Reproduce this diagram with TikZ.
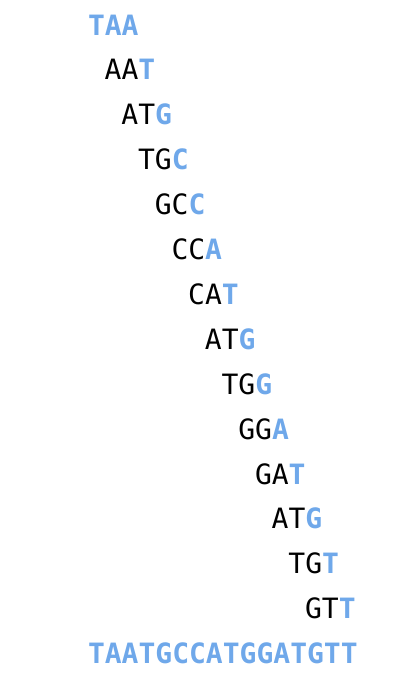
\documentclass[tikz,border=0pt]{standalone}
\usepackage{xcolor}
\usepackage{fontspec}
\setmonofont{DejaVu Sans Mono}
\usepackage{tikz}
\usetikzlibrary{positioning}
\definecolor{kmerBlue}{HTML}{6FA8EA}
\newcommand{\hl}[1]{\textcolor{kmerBlue}{\bfseries #1}}
\tikzset{
  kmer/.style={anchor=base west, inner sep=0pt, outer sep=0pt, font=\ttfamily\fontsize{28}{30}\selectfont},
  genome/.style={kmer}
}

\begin{document}
\begin{tikzpicture}[x=1pt, y=1pt]
  \useasboundingbox (0,0) rectangle (420,-696);
  \node[kmer] (k1)  at (88.0,-35.0)   {\hl{TAA}};
  \node[kmer] (k2)  at (104.7,-79.9)  {AA\hl{T}};
  \node[kmer] (k3)  at (121.4,-124.8) {AT\hl{G}};
  \node[kmer] (k4)  at (138.1,-169.7) {TG\hl{C}};
  \node[kmer] (k5)  at (154.8,-214.6) {GC\hl{C}};
  \node[kmer] (k6)  at (171.5,-259.5) {CC\hl{A}};
  \node[kmer] (k7)  at (188.2,-304.4) {CA\hl{T}};
  \node[kmer] (k8)  at (204.9,-349.3) {AT\hl{G}};
  \node[kmer] (k9)  at (221.6,-394.2) {TG\hl{G}};
  \node[kmer] (k10) at (238.3,-439.1) {GG\hl{A}};
  \node[kmer] (k11) at (255.0,-484.0) {GA\hl{T}};
  \node[kmer] (k12) at (271.7,-528.9) {AT\hl{G}};
  \node[kmer] (k13) at (288.4,-573.8) {TG\hl{T}};
  \node[kmer] (k14) at (305.1,-618.7) {GT\hl{T}};
  \node[genome] (seq) at (88.0,-663.6) {\hl{TAATGCCATGGATGTT}};
\end{tikzpicture}
\end{document}
